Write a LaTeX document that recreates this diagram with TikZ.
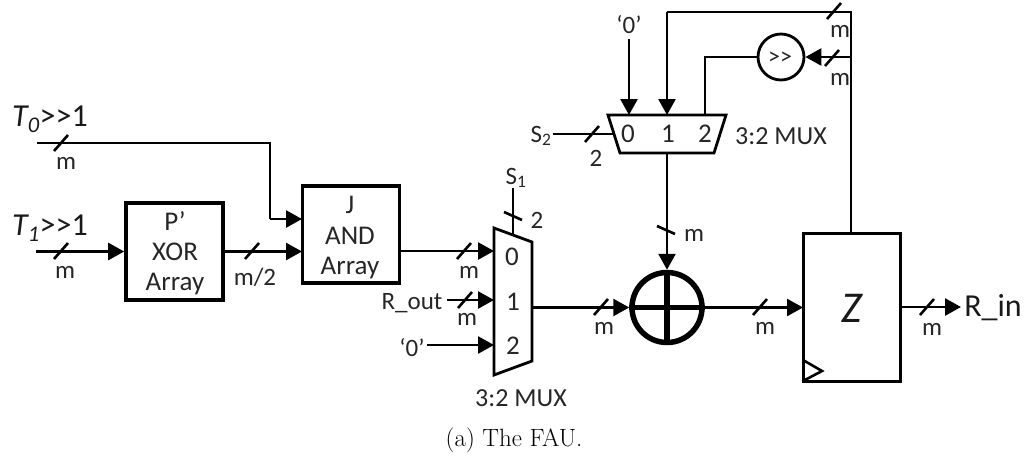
\documentclass[tikz,border=0pt]{standalone}
\usepackage{fontspec}
\setmainfont[Ligatures=NoCommon]{Carlito}
\newfontfamily\capfont{Latin Modern Roman}
\usetikzlibrary{arrows.meta}
\newcommand{\fs}[1]{\fontsize{#1}{#1}\selectfont}
\newcommand{\busH}[2]{\draw[wire] (#1-7,#2+8) -- (#1+7,#2-8);}
\newcommand{\busV}[2]{\draw[wire] (#1-9,#2-4) -- (#1+9,#2+4);}
\tikzset{
  wire/.style={line width=2.6pt,draw=black},
  arr/.style={wire,-{Triangle[length=16pt,width=17pt]}},
  lbl/.style={inner sep=0pt,font=\fs{25},text=black!85},
  mux/.style={inner sep=0pt,font=\fs{26},text=black!85},
  big/.style={inner sep=0pt,font=\fs{32},text=black!90},
  boxtxt/.style={inner sep=0pt,font=\fs{27},text=black!85},
  blockbox/.style={draw=black,line width=3.6pt,minimum width=97pt,minimum height=97pt,inner sep=0pt,fill=white},
  muxshape/.style={draw=black,line width=2.8pt,fill=white,line join=miter},
}
\begin{document}
\begin{tikzpicture}[x=1pt,y=-1pt]
\useasboundingbox (0,0) rectangle (1026,459);
% blocks
\node[blockbox] (P) at (174.5,251.5) {};
\node[blockbox] (J) at (351,234.5) {};
\node[blockbox,line width=3pt,minimum width=97pt,minimum height=148pt] (Z) at (851.5,307) {};
\node[circle,draw=black,line width=2.8pt,minimum size=46pt,inner sep=0pt,fill=white] (sh) at (781,57) {};
\node[circle,draw=black,line width=5.5pt,minimum size=70pt,inner sep=0pt] (add) at (667,307.5) {};
\draw[line width=5.5pt] (add.north) -- (add.south) (add.west) -- (add.east);
\node[font=\fs{24},inner sep=0pt,text=black!85] at (780,58) {{>}{>}};
% muxes
\draw[muxshape] (608,115) -- (726,115) -- (714,153) -- (620,153) -- cycle;
\draw[muxshape] (494,228) -- (532,242) -- (532,361) -- (494,375) -- cycle;
\coordinate (mt0) at (629,115);
\coordinate (mt1) at (667,115);
\coordinate (mt2) at (705,115);
\coordinate (mtb) at (667,153);
\coordinate (mtl) at (613,134);
\coordinate (ml0) at (494,251);
\coordinate (ml1) at (494,300);
\coordinate (ml2) at (494,345);
\coordinate (mlr) at (532,307.5);
\coordinate (mlt) at (513,235);
% free ends
\coordinate (zero1) at (629,39);
\coordinate (s2end) at (553,134);
\coordinate (s1end) at (513,188);
\coordinate (t0s) at (37,143);
\coordinate (t1s) at (36,251.5);
\coordinate (rout) at (447,300);
\coordinate (zero2) at (427,345);
\coordinate (rin) at (961,307);
\coordinate (topc) at (667,12);
\coordinate (topr) at (851,12);
\coordinate (c2) at (705,57);
\coordinate (jt) at (270,143);
\coordinate (jm) at (270,219);
\coordinate (ZT) at (851,233);
\coordinate (Jin) at (302,251.5);
\coordinate (Jin2) at (302,219);
\coordinate (Jout) at (400,251);
\coordinate (Zin) at (803,307.5);
\coordinate (Zout) at (900,307);
\coordinate (shin) at (851,57);
% connectors
\draw[wire] (ZT) -- (topr) -- (topc);
\draw[arr] (topc) -- (mt1);
\draw[arr] (shin) -- (sh.east);
\draw[wire] (sh.west) -- (c2) -- (mt2);
\draw[arr] (zero1) -- (mt0);
\draw[wire] (s2end) -- (mtl);
\draw[arr] (mtb) -- (add.north);
\draw[wire] (s1end) -- (mlt);
\draw[arr] (Jout) -- (ml0);
\draw[arr] (rout) -- (ml1);
\draw[arr] (zero2) -- (ml2);
\draw[arr] (mlr) -- (add.west);
\draw[arr] (add.east) -- (Zin);
\draw[arr] (Zout) -- (rin);
\draw[arr] (t1s) -- (P.west);
\draw[arr] (P.east) -- (Jin);
\draw[wire] (t0s) -- (jt) -- (jm);
\draw[arr] (jm) -- (Jin2);
% clock triangle
\draw[wire,line join=miter] (803,360) -- (822,371) -- (803,381);
% bus marks
\busH{834}{11} \busH{832}{58} \busH{592}{134} \busH{61}{143} \busH{61}{251}
\busH{252}{251} \busH{464}{251} \busH{465}{300} \busH{601}{307} \busH{760}{307} \busH{927}{307}
\busV{666}{230} \busV{513}{216}
% text
\node[lbl] at (840,31) {m};
\node[lbl] at (840,79) {m};
\node[lbl] at (694,235) {m};
\node[lbl] at (66,163) {m};
\node[lbl] at (65,272) {m};
\node[lbl] at (255,277) {m/2};
\node[lbl] at (469,272) {m};
\node[lbl] at (467,319) {m};
\node[lbl] at (604,328) {m};
\node[lbl] at (765,328) {m};
\node[lbl] at (932,329) {m};
\node[lbl] at (596,158) {2};
\node[lbl] at (537,220) {2};
\node[lbl] at (629,25) {‘0’};
\node[lbl] at (412,348) {‘0’};
\node[lbl] at (412,303) {R\_out};
\node[lbl] at (541,136) {S\textsubscript{2}};
\node[lbl] at (516,178) {S\textsubscript{1}};
\node[mux] at (781,136) {3:2 MUX};
\node[mux] at (521,398) {3:2 MUX};
\node[boxtxt] at (628,134) {0};
\node[boxtxt] at (668,134) {1};
\node[boxtxt] at (705,134) {2};
\node[boxtxt] at (512,257) {0};
\node[boxtxt] at (513,302) {1};
\node[boxtxt] at (513,346) {2};
\node[boxtxt] at (175,221) {P’};
\node[boxtxt] at (175,252) {XOR};
\node[boxtxt] at (175,284) {Array};
\node[boxtxt] at (350,205) {J};
\node[boxtxt] at (350,236) {AND};
\node[boxtxt] at (350,268) {Array};
\node[big] at (50,228) {\textit{T\textsubscript{1}}{>}{>}1};
\node[big] at (50,119) {\textit{T\textsubscript{0}}{>}{>}1};
\node[big] at (993,308) {R\_in};
\node[inner sep=0pt,font=\fs{44}\itshape,text=black!90] at (852,308) {Z};
\node[inner sep=0pt,font=\capfont\fs{25}] at (514,440) {(a) The FAU.};
\end{tikzpicture}
\end{document}
